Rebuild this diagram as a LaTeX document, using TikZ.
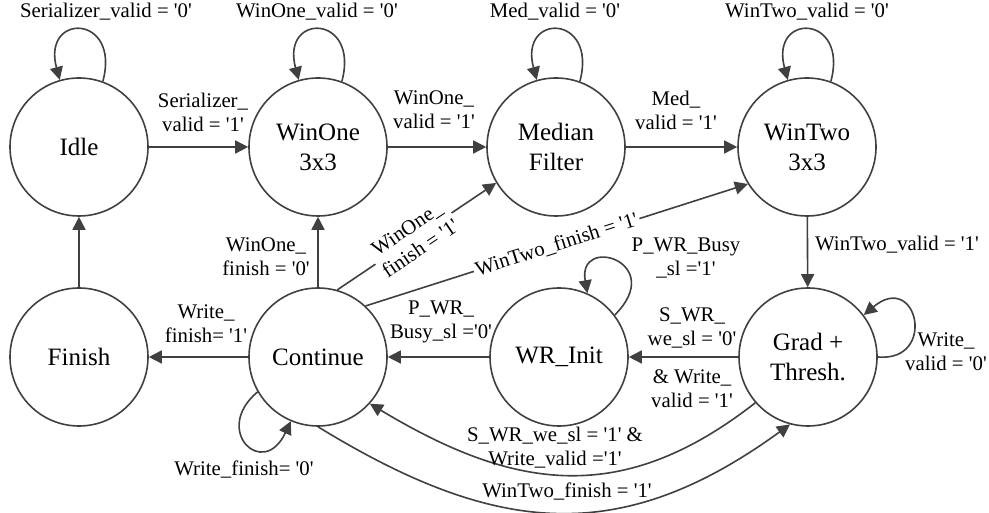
\documentclass[tikz,border=0pt]{standalone}
\usepackage{fontspec}
\setmainfont{LiberationSerif}[Extension=.ttf,UprightFont=*-Regular,BoldFont=*-Bold,ItalicFont=*-Italic]
\usetikzlibrary{arrows.meta}
\definecolor{lc}{HTML}{404040}
\newcommand{\qq}{\textquotesingle}
\begin{document}
\begin{tikzpicture}[x=0.5pt,y=0.5pt,
  st/.style={circle,draw=lc,line width=0.8pt,minimum size=69pt,inner sep=0pt,
    font=\rmfamily\fontsize{12.5}{15}\selectfont,align=center},
  lbl/.style={font=\rmfamily\fontsize{10.4}{12}\selectfont,align=center,inner sep=1pt},
  arr/.style={draw=lc,line width=0.8pt,-{Triangle[length=6.5pt,width=6.5pt]}}]
\useasboundingbox (0,0) rectangle (989,513);
% states
\node[st] (idle) at (79,366) {Idle};
\node[st] (w1)   at (318,366) {WinOne\\3x3};
\node[st] (med)  at (556,366) {Median\\Filter};
\node[st] (w2)   at (807,366) {WinTwo\\3x3};
\node[st] (fin)  at (79,156) {Finish};
\node[st] (cont) at (318,156) {Continue};
\node[st] (wr)   at (559,156) {WR\_Init};
\node[st] (grad) at (808,156) {Grad +\\Thresh.};
% straight transitions
\draw[arr] (idle) -- (w1);
\draw[arr] (w1) -- (med);
\draw[arr] (med) -- (w2);
\draw[arr] (w2) -- (grad);
\draw[arr] (grad) -- (wr);
\draw[arr] (wr) -- (cont);
\draw[arr] (cont) -- (fin);
\draw[arr] (fin) -- (idle);
\draw[arr] (cont) -- (w1);
\draw[arr] (cont.74) -- node[lbl,sloped,fill=white,pos=0.48] (lwof) {WinOne\_\\finish = \qq1\qq} (med.211);
\draw[arr] (cont.47) -- node[lbl,sloped,fill=white,pos=0.5] (lwtf) {WinTwo\_finish = \qq1\qq} (w2.212);
% self loops
\draw[arr] (idle.70) .. controls +(75:70) and +(105:70) .. (idle.106);
\draw[arr] (w1.70) .. controls +(75:70) and +(105:70) .. (w1.106);
\draw[arr] (med.70) .. controls +(75:70) and +(105:70) .. (med.106);
\draw[arr] (w2.70) .. controls +(75:70) and +(105:70) .. (w2.106);
\draw[arr] (grad.0) .. controls +(-5:60) and +(40:70) .. (grad.37);
\draw[arr] (wr.37) .. controls +(45:75) and +(100:60) .. (wr.66);
\draw[arr] (cont.210) .. controls +(220:60) and +(245:65) .. (cont.247);
% curved transitions
\draw[arr] (grad.221) .. controls +(218:169) and +(-31:169) .. (cont.318);
\draw[arr] (cont.270) .. controls +(-31.5:209) and +(216:209) .. (grad.255);
% labels
\node[lbl] (l1)  at (106,501) {Serializer\_valid = \qq0\qq};
\node[lbl] (l2)  at (317,501) {WinOne\_valid = \qq0\qq};
\node[lbl] (l3)  at (555,501) {Med\_valid = \qq0\qq};
\node[lbl] (l4)  at (807,501) {WinTwo\_valid = \qq0\qq};
\node[lbl] (l5)  at (203,401) {Serializer\_\\valid = \qq1\qq};
\node[lbl] (l6)  at (434,403) {WinOne\_\\valid = \qq1\qq};
\node[lbl] (l7)  at (676,403) {Med\_\\valid = \qq1\qq};
\node[lbl] (l8)  at (897,268) {WinTwo\_valid = \qq1\qq};
\node[lbl] (l9)  at (946,161) {Write\_\\valid = \qq0\qq};
\node[lbl] (l10) at (692,185) {S\_WR\_\\we\_sl = \qq0\qq};
\node[lbl] (l11) at (692,124) {\& Write\_\\valid = \qq1\qq};
\node[lbl] (l12) at (686,255) {P\_WR\_Busy\\\_sl =\qq1\qq};
\node[lbl] (l13) at (441,191) {P\_WR\_\\Busy\_sl =\qq0\qq};
\node[lbl] (l14) at (266,256) {WinOne\_\\finish = \qq0\qq};
\node[lbl] (l15) at (206,189) {Write\_\\finish= \qq1\qq};
\node[lbl] (l16) at (244,43) {Write\_finish= \qq0\qq};
\node[lbl] (l17) at (555,65) {S\_WR\_we\_sl = \qq1\qq{} \&\\Write\_valid =\qq1\qq};
\node[lbl] (l18) at (567,21) {WinTwo\_finish = \qq1\qq};
\end{tikzpicture}
\end{document}
